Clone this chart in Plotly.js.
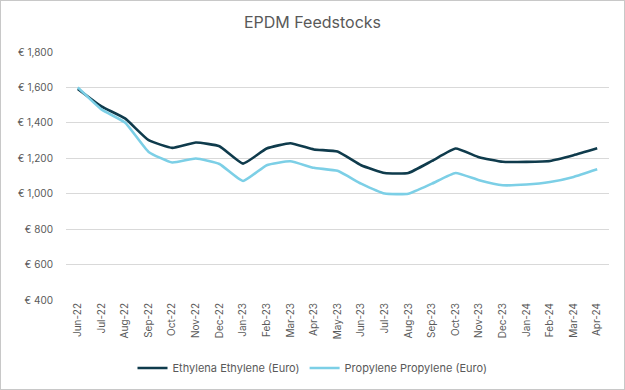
<!DOCTYPE html>
<html>
<head>
<meta charset="utf-8">
<script src="https://cdn.plot.ly/plotly-3.0.1.min.js"></script>
<style>
html,body{margin:0;padding:0;background:#fff;}
#chart{width:625px;height:390px;box-sizing:border-box;border:1px solid #c8c8c8;}
</style>
</head>
<body>
<div id="chart"></div>
<script>
const months = ["Jun-22","Jul-22","Aug-22","Sep-22","Oct-22","Nov-22","Dec-22","Jan-23","Feb-23","Mar-23","Apr-23","May-23","Jun-23","Jul-23","Aug-23","Sep-23","Oct-23","Nov-23","Dec-23","Jan-24","Feb-24","Mar-24","Apr-24"];
const ethylene = [1591,1493,1425,1302,1259,1289,1268,1170,1255,1285,1250,1238,1161,1117,1117,1185,1255,1206,1180,1180,1185,1217,1256];
const propylene = [1600,1476,1402,1236,1176,1199,1168,1072,1161,1183,1146,1129,1057,1001,1000,1057,1117,1076,1048,1052,1066,1095,1138];
const yTicks = [400,600,800,1000,1200,1400,1600,1800];
const yTickText = yTicks.map(v => '\u20AC ' + v.toLocaleString('en-US'));

const font = "Inter, 'Noto Sans', 'DejaVu Sans', sans-serif";
const traces = [
  {x: months, y: ethylene, type: 'scatter', mode: 'lines', name: 'Ethylena Ethylene (Euro)',
   line: {color: '#0f3b4c', width: 2.6, shape: 'spline', smoothing: 0.4}},
  {x: months, y: propylene, type: 'scatter', mode: 'lines', name: 'Propylene Propylene (Euro)',
   line: {color: '#7ccfe6', width: 2.6, shape: 'spline', smoothing: 0.4}}
];
const layout = {
  width: 623, height: 388,
  margin: {l: 65, r: 15, t: 51, b: 89},
  paper_bgcolor: '#fff', plot_bgcolor: '#fff',
  font: {family: font, color: '#595959', size: 10},
  title: {text: 'EPDM Feedstocks', x: 0.5, xanchor: 'center', y: 0.945, yanchor: 'middle',
          font: {family: font, size: 16, color: '#595959'}},
  xaxis: {type: 'category', range: [-0.5, 22.5], tickangle: -90, showgrid: false, automargin: false,
          showline: false, zeroline: false, ticks: '', tickfont: {size: 10, color: '#595959'}},
  yaxis: {range: [400, 1800], tickmode: 'array', tickvals: yTicks, ticktext: yTickText, automargin: false,
          showgrid: true, gridcolor: '#d9d9d9', gridwidth: 1, zeroline: false, showline: false,
          ticks: '', ticklabelstandoff: 12, tickfont: {size: 10, color: '#595959'}},
  showlegend: true,
  legend: {orientation: 'h', x: 0.5, xanchor: 'center', xref: 'container', yref: 'container',
           y: 0.054, yanchor: 'middle',
           font: {size: 11, color: '#595959'}, itemwidth: 30, tracegroupgap: 0}
};
Plotly.newPlot('chart', traces, layout, {displayModeBar: false, staticPlot: true});
</script>
</body>
</html>
